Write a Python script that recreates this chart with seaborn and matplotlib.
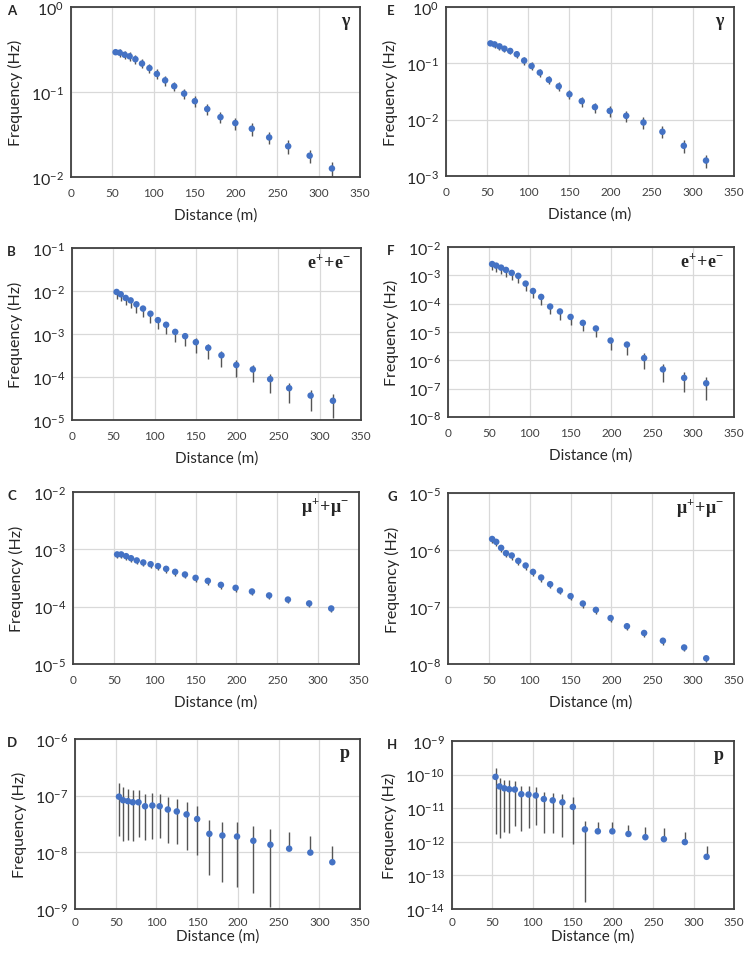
import numpy as np
import pandas as pd
import matplotlib
matplotlib.use("Agg")
import matplotlib.pyplot as plt
import seaborn as sns
from matplotlib.ticker import FuncFormatter, NullLocator, LogLocator

# shared x positions (m)
distance = [54, 59, 65, 71, 78, 86, 95, 104, 114, 125, 137, 150, 165, 181, 199, 219, 240, 263, 289, 316]

# frequencies (Hz); lo/hi = relative error below/above
gamma_a = [0.294, 0.29, 0.274, 0.263, 0.243, 0.216, 0.191, 0.163, 0.137, 0.117,
           0.0957, 0.078, 0.063, 0.0506, 0.0431, 0.037, 0.0292, 0.023, 0.0178, 0.0126]
gamma_a_lo = [0.04, 0.1, 0.11, 0.12, 0.12, 0.12, 0.12, 0.13, 0.13, 0.13,
              0.13, 0.14, 0.15, 0.15, 0.16, 0.17, 0.17, 0.18, 0.18, 0.19]
gamma_a_hi = gamma_a_lo

elec_b = [9.5e-3, 8.4e-3, 6.9e-3, 6.05e-3, 4.9e-3, 3.9e-3, 2.96e-3, 2.1e-3, 1.64e-3, 1.12e-3,
          8.9e-4, 6.45e-4, 4.75e-4, 3.2e-4, 1.9e-4, 1.5e-4, 8.9e-5, 5.5e-5, 3.7e-5, 2.8e-5]
elec_b_lo = [0.3, 0.32, 0.33, 0.35, 0.36, 0.37, 0.38, 0.39, 0.4, 0.41,
             0.42, 0.43, 0.45, 0.46, 0.48, 0.5, 0.52, 0.54, 0.57, 0.6]
elec_b_hi = [0.02, 0.08, 0.1, 0.12, 0.13, 0.14, 0.15, 0.17, 0.18, 0.19,
             0.2, 0.22, 0.24, 0.26, 0.28, 0.3, 0.33, 0.35, 0.38, 0.41]

muon_c = [8.15e-4, 8.15e-4, 7.6e-4, 7.0e-4, 6.4e-4, 5.9e-4, 5.5e-4, 5.1e-4, 4.57e-4, 4.05e-4,
          3.64e-4, 3.18e-4, 2.82e-4, 2.4e-4, 2.13e-4, 1.84e-4, 1.57e-4, 1.33e-4, 1.14e-4, 9.3e-5]
muon_c_lo = [0.14] * 20
muon_c_hi = [0.01] * 20

prot_d = [9.6e-8, 8.3e-8, 8.0e-8, 7.65e-8, 7.65e-8, 6.5e-8, 6.7e-8, 6.5e-8, 5.7e-8, 5.26e-8,
          4.67e-8, 3.87e-8, 2.12e-8, 1.98e-8, 1.9e-8, 1.6e-8, 1.36e-8, 1.16e-8, 9.9e-9, 6.7e-9]
prot_d_lo = [0.8, 0.81, 0.79, 0.79, 0.76, 0.75, 0.74, 0.72, 0.74, 0.73,
             0.76, 0.77, 0.81, 0.85, 0.87, 0.88, 0.92, 0.0, 0.0, 0.0]
prot_d_hi = [0.73, 0.71, 0.65, 0.66, 0.63, 0.62, 0.64, 0.62, 0.68, 0.69,
             0.67, 0.68, 0.73, 0.71, 0.78, 0.8, 0.88, 0.95, 0.95, 0.93]

gamma_e = [0.226, 0.217, 0.2, 0.182, 0.166, 0.145, 0.112, 0.0895, 0.0684, 0.0509,
           0.039, 0.0282, 0.0213, 0.0167, 0.0143, 0.0117, 0.0089, 0.0061, 0.00344, 0.00188]
gamma_e_lo = [0.04, 0.12, 0.12, 0.13, 0.13, 0.14, 0.15, 0.16, 0.17, 0.17,
              0.18, 0.19, 0.2, 0.2, 0.21, 0.22, 0.23, 0.24, 0.26, 0.27]
gamma_e_hi = gamma_e_lo

elec_f = [2.5e-3, 2.2e-3, 1.87e-3, 1.55e-3, 1.22e-3, 9.6e-4, 5.1e-4, 2.8e-4, 1.73e-4, 7.9e-5,
          5.3e-5, 3.4e-5, 2.1e-5, 1.33e-5, 5.0e-6, 3.6e-6, 1.2e-6, 4.8e-7, 2.4e-7, 1.55e-7]
elec_f_lo = [0.4, 0.4, 0.41, 0.42, 0.42, 0.43, 0.44, 0.45, 0.46, 0.47,
             0.48, 0.49, 0.5, 0.51, 0.54, 0.56, 0.59, 0.64, 0.67, 0.74]
elec_f_hi = [0.05, 0.06, 0.07, 0.08, 0.08, 0.09, 0.1, 0.11, 0.12, 0.13,
             0.14, 0.15, 0.16, 0.17, 0.21, 0.24, 0.5, 0.55, 0.58, 0.62]

muon_g = [1.56e-6, 1.39e-6, 1.09e-6, 8.8e-7, 8.0e-7, 6.45e-7, 5.34e-7, 4.13e-7, 3.29e-7, 2.51e-7,
          1.95e-7, 1.55e-7, 1.15e-7, 8.9e-8, 6.4e-8, 4.6e-8, 3.5e-8, 2.56e-8, 1.95e-8, 1.26e-8]
muon_g_lo = [0.15] * 20
muon_g_hi = [0.01] * 20

prot_h = [8.55e-11, 4.45e-11, 3.9e-11, 3.66e-11, 3.6e-11, 2.61e-11, 2.55e-11, 2.39e-11, 1.87e-11, 1.71e-11,
          1.5e-11, 1.09e-11, 2.34e-12, 2.05e-12, 2.05e-12, 1.71e-12, 1.37e-12, 1.2e-12, 9.8e-13, 3.57e-13]
prot_h_lo = [0.98, 0.97, 0.95, 0.95, 0.92, 0.92, 0.9, 0.87, 0.9, 0.89,
             0.91, 0.92, 0.993, 0.0, 0.0, 0.0, 0.0, 0.0, 0.0, 0.0]
prot_h_hi = [0.79, 0.8, 0.74, 0.86, 0.8, 0.8, 0.84, 0.84, 0.67, 0.7,
             0.82, 0.96, 0.8, 0.9, 0.9, 0.91, 0.95, 1.08, 1.04, 1.13]

W, H = 747, 954

# letter, particle label, values, lo, hi, (ymin exp, ymax exp), axes box in px (left, right, top, bottom)
panels = [
    ("A", "γ", gamma_a, gamma_a_lo, gamma_a_hi, (-2, 0), (71, 360, 8, 178)),
    ("B", r"$\mathregular{e^{+}\!+\!e^{-}}$", elec_b, elec_b_lo, elec_b_hi, (-5, -1), (72, 361, 249, 421)),
    ("C", r"$\mathregular{μ^{+}\!+\!μ^{-}}$", muon_c, muon_c_lo, muon_c_hi, (-5, -2), (73, 359, 493, 665)),
    ("D", "p", prot_d, prot_d_lo, prot_d_hi, (-9, -6), (75, 360, 740, 910)),
    ("E", "γ", gamma_e, gamma_e_lo, gamma_e_hi, (-3, 0), (446, 734, 8, 177)),
    ("F", r"$\mathregular{e^{+}\!+\!e^{-}}$", elec_f, elec_f_lo, elec_f_hi, (-8, -2), (448, 734, 248, 418)),
    ("G", r"$\mathregular{μ^{+}\!+\!μ^{-}}$", muon_g, muon_g_lo, muon_g_hi, (-8, -5), (448, 734, 494, 665)),
    ("H", "p", prot_h, prot_h_lo, prot_h_hi, (-14, -9), (452, 734, 742, 910)),
]

sns.set_theme(style="white")
plt.rcParams["font.family"] = ["Lato", "DejaVu Sans"]
plt.rcParams["axes.unicode_minus"] = False

fig = plt.figure(figsize=(W / 100, H / 100), dpi=100)

fmt = FuncFormatter(lambda v, p: r"$\mathregular{10^{%d}}$" % int(round(np.log10(v))))

for letter, label, freq, lo, hi, (e0, e1), (l, r, t, b) in panels:
    ax = fig.add_axes([l / W, 1 - b / H, (r - l) / W, (b - t) / H])
    df = pd.DataFrame({"distance": distance, "freq": freq, "lo": lo, "hi": hi})
    df["bottom"] = df["freq"] * (1 - df["lo"])
    df["top"] = df["freq"] * (1 + df["hi"])

    ax.vlines(df["distance"], df["bottom"], df["top"], color="#555555", lw=1.0, zorder=2)
    sns.scatterplot(data=df, x="distance", y="freq", ax=ax, color="#4472C4",
                    s=22, edgecolor="none", zorder=3, legend=False)

    ax.set_yscale("log")
    ax.set_xlim(0, 350)
    ax.set_xticks(range(0, 351, 50))
    ax.yaxis.set_major_locator(LogLocator(base=10, numticks=20))
    ax.yaxis.set_minor_locator(NullLocator())
    ax.yaxis.set_major_formatter(fmt)
    ax.set_ylim(10.0 ** e0, 10.0 ** e1)

    ax.grid(True, color="#d9d9d9", lw=0.9)
    ax.set_axisbelow(True)
    for sp in ax.spines.values():
        sp.set_color("#404040")
        sp.set_linewidth(1.3)

    bottom_row = letter in "DH"
    ax.tick_params(axis="both", length=0)
    ax.tick_params(axis="x", labelsize=8.5, pad=5 if bottom_row else 7, labelcolor="#404040")
    ax.tick_params(axis="y", labelsize=11.5, pad=5)

    ax.set_xlabel("Distance (m)", fontsize=11, labelpad=1 if bottom_row else 7)
    ax.set_ylabel("Frequency (Hz)", fontsize=11.5, labelpad=6)

    ax.text(0.965, 0.92, label, transform=ax.transAxes, ha="right", va="center",
            fontfamily="Liberation Serif", fontweight="bold", fontsize=13)

    lx = 7 if letter in "ABCD" else 387
    fig.text(lx / W, 1 - (t + 3) / H, letter, fontsize=9.5, fontweight="bold",
             ha="left", va="center")

fig.savefig("out.png", dpi=100)
